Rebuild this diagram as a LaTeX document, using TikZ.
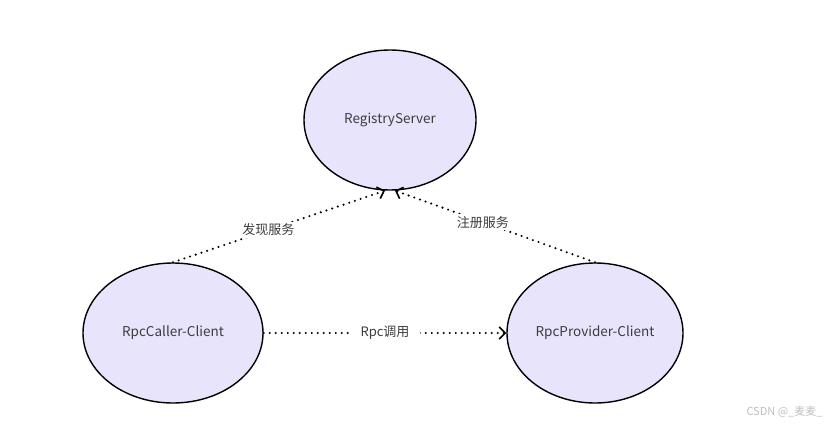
\documentclass[tikz,border=0pt]{standalone}
\usepackage{fontspec}
\setmainfont{Noto Sans CJK SC}
\usetikzlibrary{shapes.geometric,arrows.meta}
\definecolor{nodefill}{RGB}{232,228,252}
\definecolor{txt}{RGB}{60,60,60}
\tikzset{
  ell/.style={ellipse,draw=black,line width=1.4pt,fill=nodefill,inner sep=0pt,
    minimum width=#1,minimum height=140pt,text=txt,font=\fontsize{13.5}{16}\selectfont},
  conn/.style={line width=2.3pt,line cap=round,dash pattern=on 0pt off 6pt,
    -{Straight Barb[length=6pt,width=12pt,line width=1.6pt]}},
  lbl/.style={fill=white,inner sep=0pt,minimum width=80pt,minimum height=16pt,text=txt,font=\fontsize{13}{15}\selectfont}
}
\begin{document}
\begin{tikzpicture}[x=1pt,y=-1pt]
\useasboundingbox (0,0) rectangle (832,433);
\fill[white] (0,0) rectangle (832,433);
\node[ell=172pt] (reg) at (390,120) {RegistryServer};
\node[ell=180pt] (caller) at (173,333) {RpcCaller-Client};
\node[ell=176pt] (prov) at (595,333) {RpcProvider-Client};
\draw[conn] (caller.north) -- node[lbl,pos=0.45] (l1) {发现服务} (reg.266);
\draw[conn] (prov.north) -- node[lbl,pos=0.56] (l2) {注册服务} (reg.274);
\draw[conn] (caller.east) -- node[lbl,minimum width=70pt] (l3) {Rpc调用} (prov.west);
\node[text=black!25,font=\fontsize{11}{13}\selectfont,anchor=east] (wm) at (826,412) {CSDN @\_麦麦\_};
\end{tikzpicture}
\end{document}
